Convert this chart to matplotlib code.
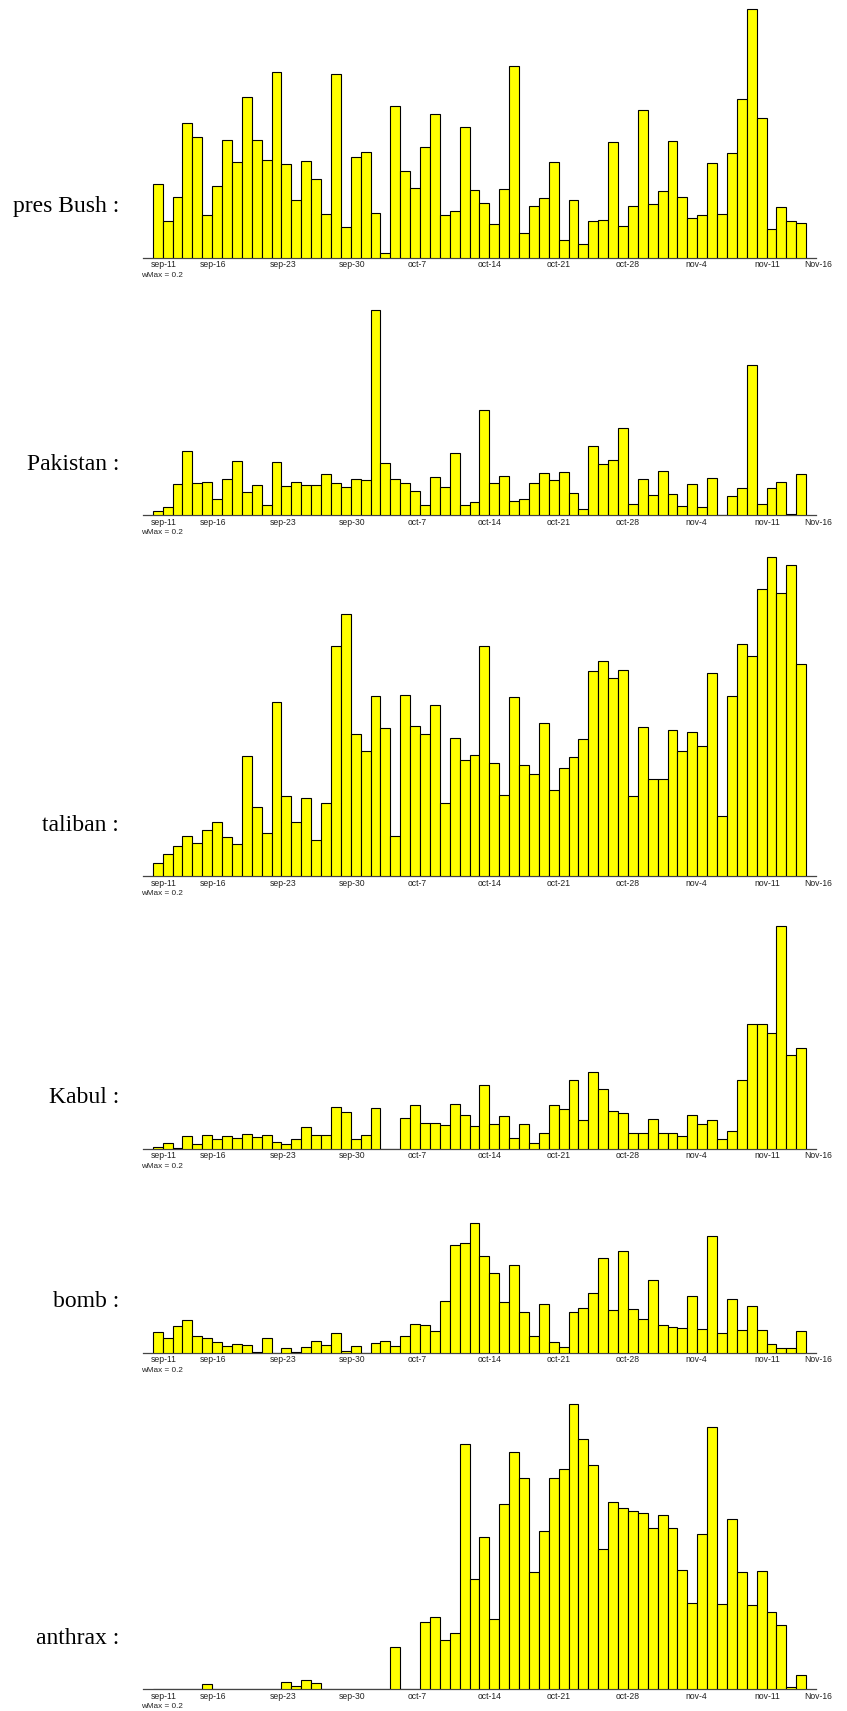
import matplotlib
matplotlib.use("Agg")
import matplotlib.pyplot as plt

# Daily term weights, Sep 11 .. Nov 15 (66 days), one list per term
pres_bush = [74, 37, 60.3, 134.3, 120.3, 42.3, 71.3, 118, 95.7, 161,
             117.3, 97.3, 186, 94, 57.3, 96.3, 79, 43.3, 183.7, 30.3,
             100.3, 105.3, 44.3, 4.7, 151.7, 86.7, 70, 111, 143.3, 42.3,
             46.3, 130.3, 67.3, 55, 33.7, 68.3, 192, 24.3, 52, 59.3,
             95.3, 17.3, 57.3, 14, 36.3, 37.3, 115.3, 31.3, 52, 148,
             53.3, 66.7, 116.3, 60.3, 39.3, 42.7, 95, 43.7, 105, 158.3,
             248.3, 139.3, 28.3, 50.7, 36.7, 34.7]
pakistan = [4.3, 8, 31, 64, 32.3, 33, 16, 36, 54, 23,
            30.7, 10, 53.7, 29.7, 33.3, 30.7, 30, 41.3, 32.3, 28,
            36, 35, 205.3, 52.7, 36.3, 32.7, 24.3, 10.3, 38.7, 28,
            62.7, 10, 13, 105.7, 32, 39.7, 14, 16, 32.3, 42.3,
            35.3, 43.3, 22.3, 6.7, 69, 51.7, 55, 87.7, 11.7, 36.7,
            20.3, 44.7, 21.3, 9.3, 31, 8.3, 37, 0, 19.7, 27,
            150, 11.7, 27.3, 33, 1, 41]
taliban = [13.3, 21.7, 30, 39.7, 33, 46, 53.7, 39, 32.3, 119.7,
           69.3, 43, 173.7, 80, 53.7, 77.7, 35.7, 72.7, 230, 262,
           142.3, 124.7, 180.3, 147.7, 39.7, 181.3, 149.7, 142, 171, 73.3,
           137.7, 115.7, 121.3, 229.7, 113, 81.3, 179.3, 110.7, 101.7, 152.7,
           85.7, 108.3, 119, 137.3, 204.7, 214.7, 197.7, 206, 79.7, 149.3,
           97, 97, 145.7, 124.7, 143.7, 129.7, 203, 60.3, 180.3, 232.3,
           219.7, 286.7, 319.3, 282.7, 311, 212.3]
kabul = [1.3, 5.3, 0.5, 12.7, 5, 13.3, 10, 13, 11, 14.3,
         11.3, 13.3, 7, 4.3, 9.3, 21.3, 13.7, 13.3, 41.3, 36.3,
         9.3, 13.3, 40.7, 0, 0, 30.3, 43.3, 25.3, 26, 23.3,
         44.3, 34, 23, 64, 24.3, 33, 10.7, 24.3, 5.3, 15.3,
         44, 39.3, 68.3, 29, 76.7, 59.7, 37.3, 35.3, 15.3, 15.3,
         30, 15.3, 16, 12.7, 34, 25, 28.3, 10, 17.3, 68.3,
         125, 124.7, 115.3, 222.3, 93.3, 100.3]
bomb = [20.7, 14.7, 26.3, 32.3, 16.3, 15, 11, 7, 8.7, 7.3,
        0.7, 15, 0, 4.7, 0.7, 5.3, 11.3, 7.7, 20, 1.3,
        6.3, 0, 10, 12, 6.3, 16.3, 29, 27.3, 21.7, 51.3,
        108, 110, 129.3, 97, 79.3, 50.7, 87.3, 41, 16.3, 48.7,
        11, 5.7, 41, 44.3, 60, 94.3, 42.7, 101.3, 43.7, 33.3,
        72.3, 28, 25.7, 24.7, 56.7, 23.3, 116.3, 20, 53.7, 23,
        46.3, 22.7, 8.3, 5, 4.3, 21.7]
anthrax = [0, 0, 0, 0, 0, 5, 0, 0, 0, 0,
           0, 0, 0, 7.3, 2.7, 8.7, 6, 0, 0, 0,
           0, 0, 0, 0, 41.7, 0, 0, 66.7, 71.7, 49.3,
           56, 244.7, 109.7, 152, 69.7, 185.3, 237.3, 211, 116.7, 158,
           211.3, 220, 284.7, 249.7, 223.7, 139.7, 186.7, 180.7, 178, 176,
           160.7, 173.7, 160.7, 118.7, 86.3, 155.3, 261.7, 85, 170.3, 116.7,
           84.3, 118, 76.7, 64, 2.3, 13.7]

terms = ["pres Bush :", "Pakistan :", "taliban :", "Kabul :", "bomb :", "anthrax :"]
series = [pres_bush, pakistan, taliban, kabul, bomb, anthrax]

tick_days = [0, 5, 12, 19, 26, 33, 40, 47, 54, 61, 66]
tick_labels = ["sep-11", "sep-16", "sep-23", "sep-30", "oct-7", "oct-14",
               "oct-21", "oct-28", "nov-4", "nov-11", "Nov-16"]
scale_note = "wMax = 0.2"

# page layout in pixels
W, H = 847, 1711
DPI = 100
baselines = [257.7, 515.3, 876.0, 1148.7, 1352.7, 1689.0]
ax_left, ax_right = 143.0, 816.0
bar0_left, bar_step = 152.7, 9.9     # pixel position of first bar, pixels per day
px_per_unit = 1.0                    # common vertical scale for all panels

x_lo = -0.5 - (bar0_left - ax_left) / bar_step
x_hi = -0.5 + (ax_right - bar0_left) / bar_step

fig = plt.figure(figsize=(W / DPI, H / DPI), dpi=DPI)
fig.patch.set_facecolor("white")

for term, vals, base in zip(terms, series, baselines):
    top_units = max(vals) + 4
    h_px = top_units * px_per_unit
    ax = fig.add_axes([ax_left / W, 1 - base / H, (ax_right - ax_left) / W, h_px / H])
    ax.bar(range(len(vals)), vals, width=1.0, color="#ffff00",
           edgecolor="black", linewidth=0.8, zorder=3)
    ax.set_xlim(x_lo, x_hi)
    ax.set_ylim(0, top_units)
    for side in ("left", "right", "top"):
        ax.spines[side].set_visible(False)
    ax.spines["bottom"].set_color("#444444")
    ax.spines["bottom"].set_linewidth(0.9)
    ax.set_yticks([])
    ax.set_xticks([d - 0.7 for d in tick_days], tick_labels)
    ax.tick_params(axis="x", length=0, pad=2.0, labelsize=6.2, colors="#222222")
    for lab in ax.get_xticklabels():
        lab.set_ha("left")
        lab.set_fontfamily(["Liberation Sans", "DejaVu Sans"])
    ax.patch.set_alpha(0)

    fig.text(119 / W, 1 - (base - 45.4) / H, term, ha="right", va="baseline",
             fontsize=17, family=["Liberation Serif", "DejaVu Serif"], color="black")
    fig.text(141.5 / W, 1 - (base + 17.6) / H, scale_note, ha="left", va="center",
             fontsize=5.9, family=["Liberation Sans", "DejaVu Sans"], color="#222222")

fig.savefig("out.png", dpi=DPI, facecolor="white")
